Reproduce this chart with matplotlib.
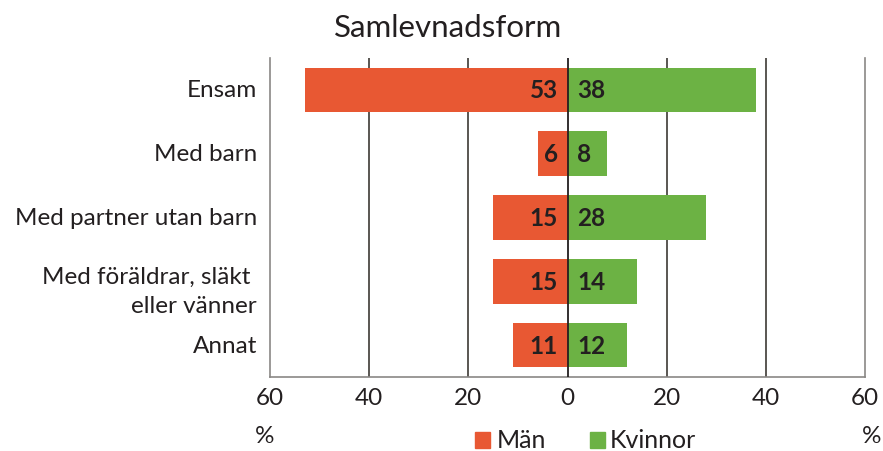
import matplotlib
matplotlib.use('Agg')
import matplotlib.pyplot as plt
import matplotlib.transforms as mtransforms
from matplotlib.patches import Rectangle

categories = ['Ensam', 'Med barn', 'Med partner utan barn',
              'Med föräldrar, släkt \neller vänner', 'Annat']
man = [53, 6, 15, 15, 11]
kvinnor = [38, 8, 28, 14, 12]
ticks = [-60, -40, -20, 0, 20, 40, 60]
tick_labels = ['60', '40', '20', '0', '20', '40', '60']

red = '#E85833'
green = '#6CB244'
dark = '#231F20'

plt.rcParams['font.family'] = ['Lato', 'DejaVu Sans']

fig = plt.figure(figsize=(8.83, 4.52), dpi=100)
ax = fig.add_axes([0.3058, 0.1637, 0.6738, 0.7058])

y = list(range(len(categories)))
ax.barh(y, [-v for v in man], height=0.7, color=red, zorder=2)
ax.barh(y, kvinnor, height=0.7, color=green, zorder=2)

for i in y:
    ax.text(-2, i, str(man[i]), ha='right', va='center', fontsize=17.5,
            fontweight='bold', color=dark, zorder=4)
    ax.text(2.0, i, str(kvinnor[i]), ha='left', va='center', fontsize=17.5,
            fontweight='bold', color=dark, zorder=4)

ax.set_xlim(-60, 60)
ax.set_ylim(4.5, -0.5)
for g in [-40, -20, 20, 40]:
    ax.axvline(g, color='#3D3935', lw=1.2, zorder=1)
ax.axvline(0, color=dark, lw=1.3, zorder=3)

ax.set_xticks(ticks)
ax.set_xticklabels(tick_labels, fontsize=17.5, color=dark)
ax.tick_params(axis='x', length=0, pad=7)
ax.set_yticks([])
ax.spines['top'].set_visible(False)
for s in ['left', 'right', 'bottom']:
    ax.spines[s].set_color('#8A8785')
    ax.spines[s].set_linewidth(1.2)

# category labels
trans = mtransforms.blended_transform_factory(fig.transFigure, ax.transData)
for i, c in enumerate(categories):
    yy = i + 0.15 if '\n' in c else i
    ax.text(257 / 883, yy, c, transform=trans, ha='right', va='center',
            fontsize=17.5, color=dark, linespacing=1.45)

fig.text(448 / 883, 1 - 28 / 452, 'Samlevnadsform', ha='center', va='center',
         fontsize=22.5, color=dark)
fig.text(265 / 883, 1 - 437 / 452, '%', ha='center', va='center', fontsize=17.5, color=dark)
fig.text(872 / 883, 1 - 437 / 452, '%', ha='center', va='center', fontsize=17.5, color=dark)

# legend
ly = 1 - 441 / 452
fig.patches.append(Rectangle((475 / 883, ly - 8 / 452), 15 / 883, 16 / 452,
                             transform=fig.transFigure, color=red))
fig.text(497 / 883, ly, 'Män', ha='left', va='center', fontsize=18, color=dark)
fig.patches.append(Rectangle((590 / 883, ly - 8 / 452), 15 / 883, 16 / 452,
                             transform=fig.transFigure, color=green))
fig.text(610 / 883, ly, 'Kvinnor', ha='left', va='center', fontsize=18, color=dark)

fig.savefig('out.png', dpi=100)
